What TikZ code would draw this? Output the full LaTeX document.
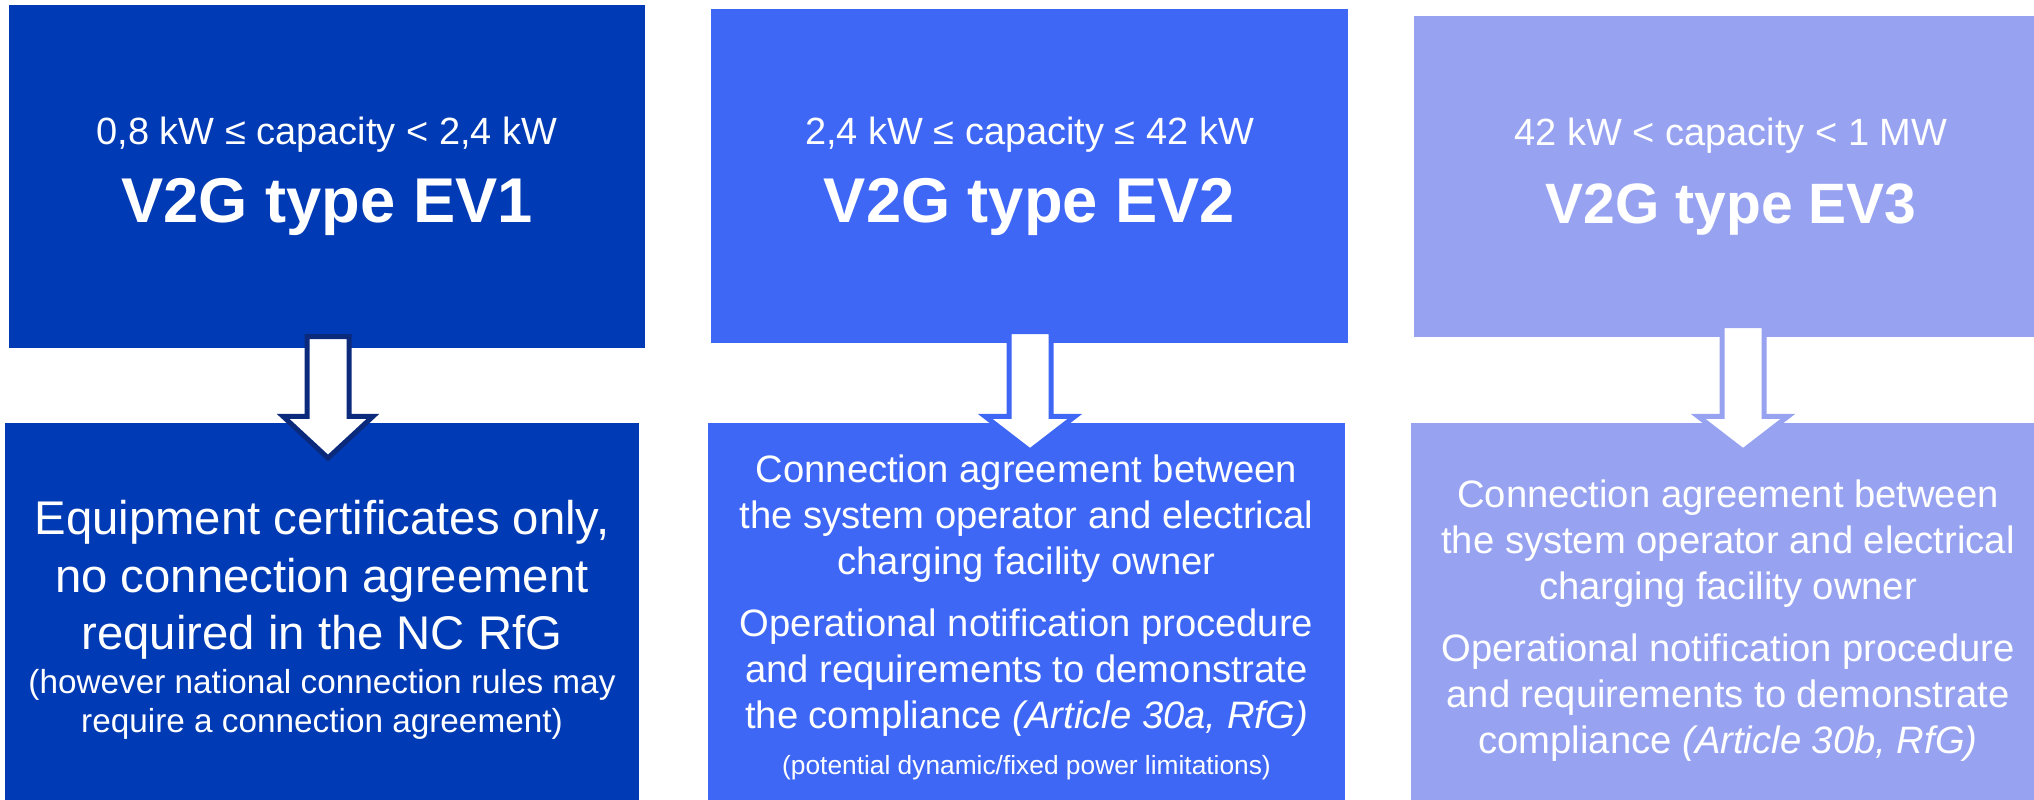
\documentclass[tikz,border=0pt]{standalone}
\usepackage{fontspec}
\setmainfont{Liberation Sans}
\usetikzlibrary{calc}

\definecolor{evone}{HTML}{003AB4}
\definecolor{evtwo}{HTML}{3E67F5}
\definecolor{evthree}{HTML}{97A3F1}
\definecolor{evnavy}{HTML}{0B2A7C}

% bold class name under the capacity range
\newcommand{\typename}[2][18]{{\fontsize{#1}{22}\selectfont\bfseries #2}}
% hollow block arrow from a type box down into its requirement box
% #2 upper node, #3 lower node, #4 x offset, #5 tip depth
\newcommand{\blockarrow}[5][]{%
  \draw[#1] ($(#2.south)+(#4-21,-12)$) -- ++(42,0)
    -- ($(#2.south |- #3.north)+(#4+21,-6)$) -- ++(24,0)
    -- ($(#2.south |- #3.north)+(#4,#5)$)
    -- ($(#2.south |- #3.north)+(#4-45,-6)$) -- ++(24,0) -- cycle;}

\begin{document}
\begin{tikzpicture}[x=0.1mm, y=-0.1mm,
    box/.style={rectangle, inner sep=0pt, text=white, align=center},
    rangebox/.style={box, font=\fontsize{10.8}{22.2}\selectfont},
    reqbox/.style={box, font=\fontsize{10.87}{13.09}\selectfont},
    hollow/.style={fill=white, line width=0.5mm}]
    \useasboundingbox (0,0) rectangle (2034,799);
    \clip (0,0) rectangle (2034,799);

    % capacity classes
    \node[rangebox, fill=evone, minimum width=6.36cm, minimum height=3.43cm] (type1) at (327,176.5)
      {0,8 kW ≤ capacity < 2,4 kW\\ \typename{V2G type EV1}};
    \node[rangebox, fill=evtwo, minimum width=6.37cm, minimum height=3.34cm] (type2) at (1029.5,176)
      {2,4 kW ≤ capacity ≤ 42 kW\\ \typename{V2G type EV2}};
    \node[rangebox, fill=evthree, minimum width=6.34cm, minimum height=3.21cm] (type3) at (1731,176.5)
      {42 kW < capacity < 1 MW\\ \typename[16.2]{V2G type EV3}};

    % what each class has to provide
    \node[box, fill=evone, minimum width=6.34cm, minimum height=3.946cm,
          font=\fontsize{13.45}{16.36}\selectfont] (req1) at (322,620.3)
      {Equipment certificates only,\\ no connection agreement\\ required in the NC RfG\\[-4.1pt]
       {\fontsize{9.48}{11.4}\selectfont (however national connection rules may}\\[-5pt]
       {\fontsize{9.48}{11.4}\selectfont require a connection agreement)}};
    \node[reqbox, fill=evtwo, minimum width=6.37cm, minimum height=3.896cm] (req2) at (1026.5,617.8)
      {Connection agreement between\\ the system operator and electrical\\ charging facility owner\\[4.55pt]
       Operational notification procedure\\ and requirements to demonstrate\\
       the compliance \textit{(Article 30a, RfG)}\\
       {\fontsize{7.49}{9}\selectfont (potential dynamic/fixed power limitations)}};
    \node[reqbox, fill=evthree, minimum width=6.34cm, minimum height=3.95cm] (req3) at (1728,620.5)
      {Connection agreement between\\ the system operator and electrical\\ charging facility owner\\[4.55pt]
       Operational notification procedure\\ and requirements to demonstrate\\
       compliance \textit{(Article 30b, RfG)}};

    % arrows
    \blockarrow[hollow, draw=evnavy]{type1}{req1}{1}{35.7}
    \blockarrow[hollow, draw=evtwo]{type2}{req2}{0.5}{28.7}
    \blockarrow[hollow, draw=evthree]{type3}{req3}{12}{28.7}
\end{tikzpicture}
\end{document}
